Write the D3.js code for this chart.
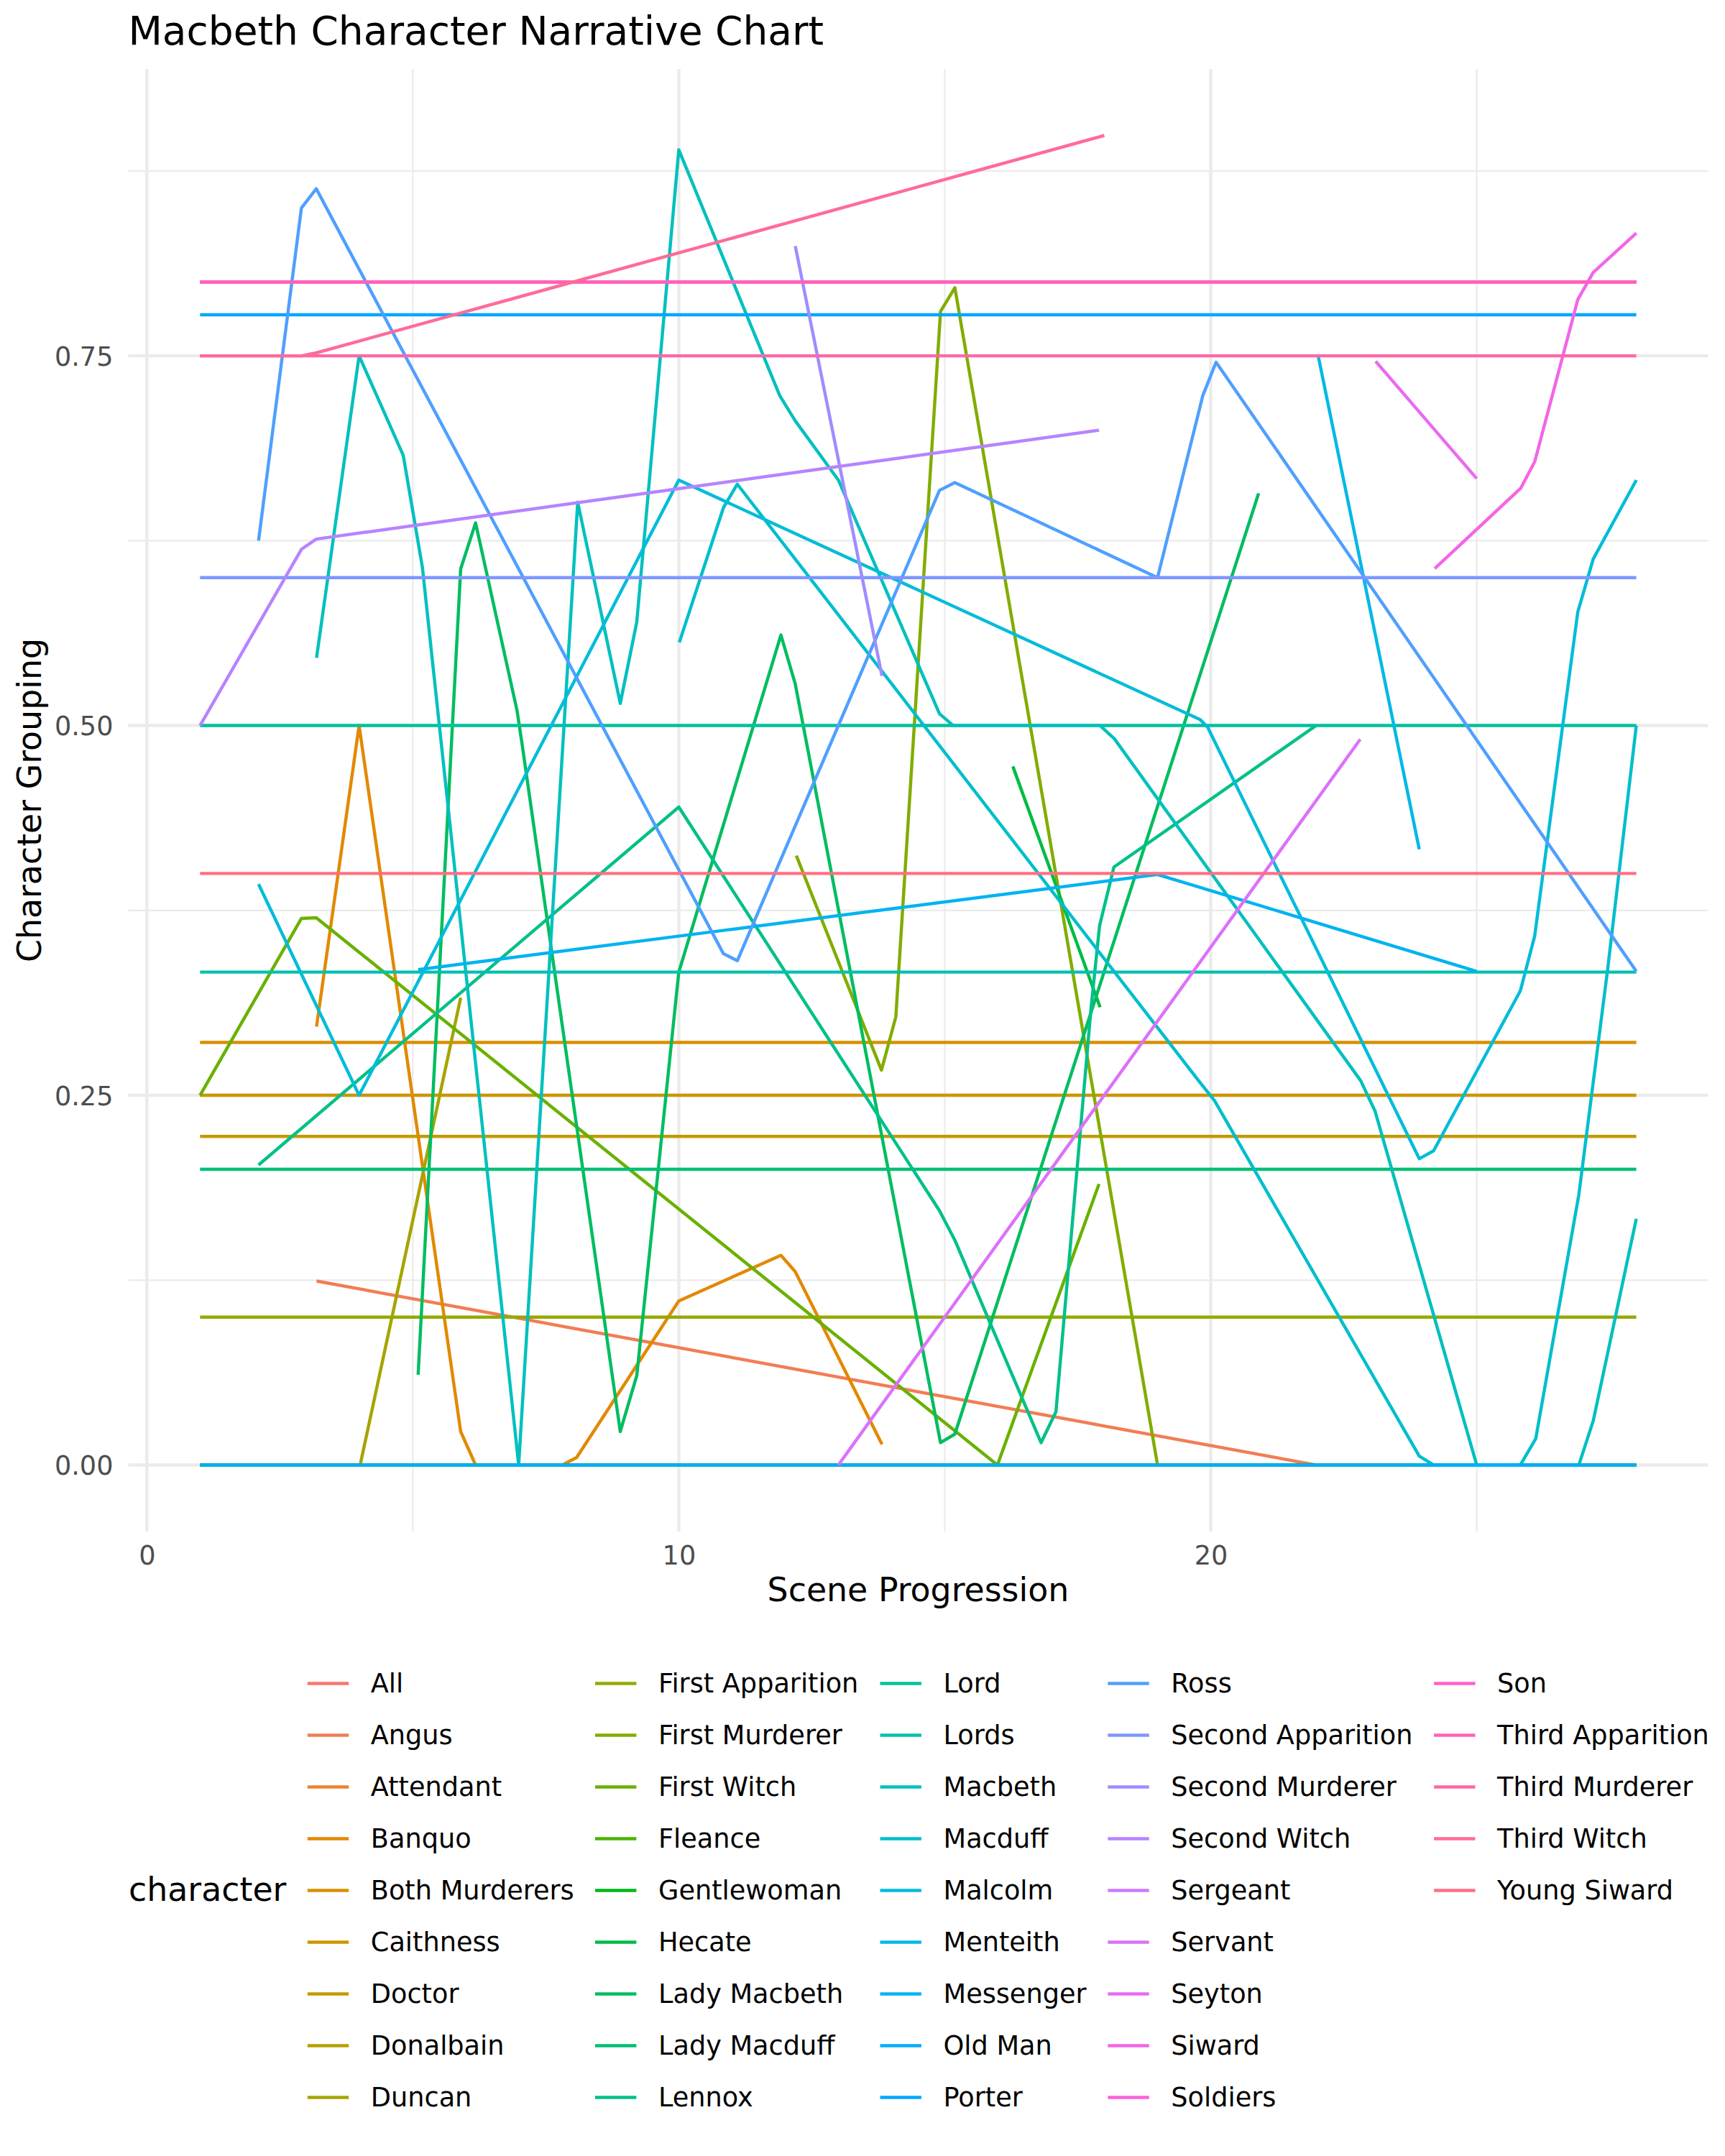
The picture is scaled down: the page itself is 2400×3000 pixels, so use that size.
<!DOCTYPE html>
<html>
<head>
<meta charset="utf-8">
<script src="https://cdn.jsdelivr.net/npm/d3@7"></script>
<style>
  body { margin: 0; background: #ffffff; }
  svg { display: block; }
  text { font-family: "DejaVu Sans", sans-serif; }
</style>
</head>
<body>
<svg id="chart" width="2400" height="3000"></svg>
<script>
// ---------------- DATA ----------------
const characters = ["All","Angus","Attendant","Banquo","Both Murderers","Caithness","Doctor","Donalbain","Duncan",
  "First Apparition","First Murderer","First Witch","Fleance","Gentlewoman","Hecate","Lady Macbeth","Lady Macduff",
  "Lennox","Lord","Lords","Macbeth","Macduff","Malcolm","Menteith","Messenger","Old Man","Porter","Ross",
  "Second Apparition","Second Murderer","Second Witch","Sergeant","Servant","Seyton","Siward","Soldiers","Son",
  "Third Apparition","Third Murderer","Third Witch","Young Siward"];

// [scene, grouping] points per character (alphabetical order)
const sAll = [[1,0],[28,0]];
const sAngus = [[3.19,0.1244],[21.98,0.0]];
const sAttendant = [[1,0],[28,0]];
const sBanquo = [[3.19,0.2964],[3.99,0.5],[5.9,0.0226],[6.18,0],[7.81,0],[8.08,0.0051],[10,0.1109],[11.92,0.1418],[12.19,0.1307],[13.82,0.014]];
const sBothMurderers = [[1,0.2857],[28,0.2857]];
const sCaithness = [[1,0.25],[28,0.25]];
const sDoctor = [[1,0.2222],[28,0.2222]];
const sDonalbain = [[1,0],[28,0]];
const sDuncan = [[1,0],[4.01,0],[5.9,0.316]];
const sFirstApparition = [[1,0.1],[28,0.1]];
const sFirstMurderer = [[12.21,0.412],[13.81,0.267],[14.08,0.303],[14.92,0.780],[15.19,0.796],[19,0]];
const sFirstWitch = [[1,0.25],[2.906,0.3696],[3.185,0.37],[15.99,0],[17.9,0.19]];
const sFleance = [[1,0],[28,0]];
const sGentlewoman = [[1,0],[28,0]];
const sHecate = [[16.28,0.4724],[17.92,0.3095]];
const sLadyMacbeth = [[5.1,0.061],[5.9,0.606],[6.18,0.637],[6.96,0.51],[7.06,0.486],[8.9,0.0226],[9.21,0.0604],[10,0.3333],[11.92,0.5612],[12.19,0.528],[14.92,0.0151],[15.19,0.0209],[20.9,0.657]];
const sLadyMacduff = [[1,0.2],[28,0.2]];
const sLennox = [[2.1,0.2029],[10,0.4449],[14.9,0.172],[15.19,0.152],[16.81,0.0151],[17.09,0.036],[17.75,0.309],[17.91,0.3646],[18.18,0.4043],[21.98,0.5]];
const sLord = [[1,0.5],[28,0.5]];
const sLords = [[1,0.3333],[28,0.3333]];
const sMacbeth = [[3.19,0.5458],[3.99,0.75],[4.82,0.6827],[5.18,0.607],[6.99,0],[8.1,0.651],[8.9,0.515],[9.21,0.570],[10,0.8893],[11.9,0.7229],[12.19,0.706],[13,0.666],[14.9,0.508],[15.16,0.5],[17.92,0.5],[18.19,0.491],[22.82,0.2598],[23.09,0.2392],[25,0],[26.92,0],[27.19,0.0298],[28,0.1665]];
const sMacduff = [[10.01,0.5562],[10.84,0.6474],[11.1,0.6632],[19.76,0.2604],[20.07,0.2464],[23.92,0.006],[24.19,0],[25.82,0],[26.11,0.0178],[26.92,0.1828],[27.46,0.3347],[28,0.5]];
const sMalcolm = [[2.1,0.3928],[3.99,0.25],[10,0.666],[19.8,0.504],[19.94,0.499],[23.92,0.2071],[24.19,0.2125],[25.82,0.3206],[26.09,0.3577],[26.9,0.5768],[27.19,0.6126],[28,0.666]];
const sMenteith = [[22.02,0.75],[23.92,0.4163]];
const sMessenger = [[5.1,0.3349],[19,0.3993],[25,0.3338]];
const sOldMan = [[1,0],[28,0]];
const sPorter = [[1,0.7778],[28,0.7778]];
const sRoss = [[2.1,0.625],[2.906,0.85],[3.185,0.863],[10.84,0.3457],[11.1,0.341],[14.9,0.659],[15.19,0.6643],[19,0.6],[19.85,0.723],[20.1,0.7457],[28,0.3338]];
const sSecondApparition = [[1,0.6],[28,0.6]];
const sSecondMurderer = [[12.19,0.8242],[13.82,0.5335]];
const sSecondWitch = [[1,0.5],[2.906,0.6192],[3.185,0.6261],[17.9,0.6997]];
const sSergeant = [[1,0.8],[28,0.8]];
const sServant = [[13,0],[22.81,0.4907]];
const sSeyton = [[23.1,0.7463],[25,0.667]];
const sSiward = [[24.21,0.6061],[25.83,0.6606],[26.09,0.6784],[26.9,0.788],[27.19,0.8064],[28,0.833]];
const sSoldiers = [[1,0.8],[28,0.8]];
const sSon = [[1,0.8],[28,0.8]];
const sThirdApparition = [[1,0.8],[28,0.8]];
const sThirdMurderer = [[1,0.75],[28,0.75]];
const sThirdWitch = [[1,0.75],[2.906,0.75],[3.185,0.752],[18,0.899]];
const sYoungSiward = [[1,0.4],[28,0.4]];

const seriesList = [sAll,sAngus,sAttendant,sBanquo,sBothMurderers,sCaithness,sDoctor,sDonalbain,sDuncan,
  sFirstApparition,sFirstMurderer,sFirstWitch,sFleance,sGentlewoman,sHecate,sLadyMacbeth,sLadyMacduff,
  sLennox,sLord,sLords,sMacbeth,sMacduff,sMalcolm,sMenteith,sMessenger,sOldMan,sPorter,sRoss,
  sSecondApparition,sSecondMurderer,sSecondWitch,sSergeant,sServant,sSeyton,sSiward,sSoldiers,sSon,
  sThirdApparition,sThirdMurderer,sThirdWitch,sYoungSiward];

const xTicks = [0, 10, 20];
const xTickLabels = ["0", "10", "20"];
const xMinorTicks = [5, 15, 25];
const yTicks = [0, 0.25, 0.5, 0.75];
const yTickLabels = ["0.00", "0.25", "0.50", "0.75"];
const yMinorTicks = [0.125, 0.375, 0.625, 0.875];

const titleText = "Macbeth Character Narrative Chart";
const xTitle = "Scene Progression";
const yTitle = "Character Grouping";
const legendTitle = "character";

// ---------------- COLOURS (ggplot hue palette, polar LUV) ----------------
function hcl2hex(h, c, l) {
  const WY = 100.0, Wu = 0.1978398, Wv = 0.4683363;
  const hr = h * Math.PI / 180;
  const L = l, U = c * Math.cos(hr), V = c * Math.sin(hr);
  const Y = WY * (L > 7.999592 ? Math.pow((L + 16) / 116, 3) : L / 903.3);
  const u = U / (13 * L) + Wu, v = V / (13 * L) + Wv;
  const X = 9.0 * Y * u / (4 * v);
  const Z = -X / 3 - 5 * Y + 3 * Y / v;
  const g = t => t > 0.00304 ? 1.055 * Math.pow(t, 1 / 2.4) - 0.055 : 12.92 * t;
  const cl = t => Math.max(0, Math.min(1, t));
  const R = cl(g((3.240479 * X - 1.537150 * Y - 0.498535 * Z) / WY));
  const G = cl(g((-0.969256 * X + 1.875992 * Y + 0.041556 * Z) / WY));
  const B = cl(g((0.055648 * X - 0.204043 * Y + 1.057311 * Z) / WY));
  const hx = t => Math.floor(255 * t + 0.5).toString(16).padStart(2, "0");
  return "#" + hx(R) + hx(G) + hx(B);
}
const nC = characters.length;
const palette = characters.map((d, i) => hcl2hex((15 + i * 360 / nC) % 360, 100, 65));
const color = d3.scaleOrdinal().domain(characters).range(palette);

// ---------------- LAYOUT ----------------
const panel = { left: 178.4, right: 2376.5, top: 96, bottom: 2131 };
const LW = 4.45;

const allPts = seriesList.flat();
const xExt = d3.extent(allPts, d => d[0]);
const yExt = d3.extent(allPts, d => d[1]);
const xPad = (xExt[1] - xExt[0]) * 0.05, yPad = (yExt[1] - yExt[0]) * 0.05;
const x = d3.scaleLinear().domain([xExt[0] - xPad, xExt[1] + xPad]).range([panel.left, panel.right]);
const y = d3.scaleLinear().domain([yExt[0] - yPad, yExt[1] + yPad]).range([panel.bottom, panel.top]);

const svg = d3.select("#chart");
svg.append("rect").attr("width", 2400).attr("height", 3000).attr("fill", "#ffffff");

// grid
const grid = svg.append("g");
grid.selectAll(".xm").data(xMinorTicks).enter().append("line")
  .attr("x1", d => x(d)).attr("x2", d => x(d)).attr("y1", panel.top).attr("y2", panel.bottom)
  .attr("stroke", "#EBEBEB").attr("stroke-width", 2.22);
grid.selectAll(".ym").data(yMinorTicks).enter().append("line")
  .attr("y1", d => y(d)).attr("y2", d => y(d)).attr("x1", panel.left).attr("x2", panel.right)
  .attr("stroke", "#EBEBEB").attr("stroke-width", 2.22);
grid.selectAll(".xM").data(xTicks).enter().append("line")
  .attr("x1", d => x(d)).attr("x2", d => x(d)).attr("y1", panel.top).attr("y2", panel.bottom)
  .attr("stroke", "#EBEBEB").attr("stroke-width", 4.45);
grid.selectAll(".yM").data(yTicks).enter().append("line")
  .attr("y1", d => y(d)).attr("y2", d => y(d)).attr("x1", panel.left).attr("x2", panel.right)
  .attr("stroke", "#EBEBEB").attr("stroke-width", 4.45);

// lines
const line = d3.line().x(d => x(d[0])).y(d => y(d[1]));
const linesG = svg.append("g");
seriesList.forEach((pts, i) => {
  const sorted = pts.slice().sort((a, b) => a[0] - b[0]);
  linesG.append("path").attr("d", line(sorted))
    .attr("fill", "none").attr("stroke", color(characters[i]))
    .attr("stroke-width", LW).attr("stroke-linejoin", "round").attr("stroke-linecap", "butt");
});

// axes
const xAxis = d3.axisBottom(x).tickValues(xTicks).tickFormat((d, i) => xTickLabels[i]).tickSize(0).tickPadding(20);
const gx = svg.append("g").attr("transform", `translate(0,${panel.bottom})`).call(xAxis);
gx.select(".domain").remove();
gx.selectAll("text").attr("font-size", 36.67).attr("fill", "#4D4D4D").attr("font-family", "DejaVu Sans");

const yAxis = d3.axisLeft(y).tickValues(yTicks).tickFormat((d, i) => yTickLabels[i]).tickSize(0).tickPadding(20.9);
const gy = svg.append("g").attr("transform", `translate(${panel.left},0)`).call(yAxis);
gy.select(".domain").remove();
gy.selectAll("text").attr("font-size", 36.67).attr("fill", "#4D4D4D").attr("dy", "0.365em").attr("font-family", "DejaVu Sans");

// titles
svg.append("text").attr("x", 178.4).attr("y", 62).attr("font-size", 55).attr("fill", "#000").text(titleText);
svg.append("text").attr("x", (panel.left + panel.right) / 2).attr("y", 2228).attr("text-anchor", "middle")
  .attr("font-size", 45.83).attr("fill", "#000").text(xTitle);
svg.append("text").attr("transform", `translate(56.7,${(panel.top + panel.bottom) / 2}) rotate(-90)`)
  .attr("text-anchor", "middle").attr("font-size", 45.83).attr("fill", "#000").text(yTitle);

// legend
const legendKeyX = [427.8, 828, 1224.5, 1541.3, 1995.1];
const legendRow0 = 2342.4, legendRowStep = 72.0, legendRows = 9;
const lg = svg.append("g");
lg.append("text").attr("x", 179).attr("y", 2645).attr("font-size", 45.83).attr("fill", "#000").text(legendTitle);
characters.forEach((name, i) => {
  const col = Math.floor(i / legendRows), row = i % legendRows;
  const cy = legendRow0 + row * legendRowStep;
  const kx = legendKeyX[col];
  lg.append("line").attr("x1", kx).attr("x2", kx + 57.4).attr("y1", cy).attr("y2", cy)
    .attr("stroke", color(name)).attr("stroke-width", LW);
  lg.append("text").attr("x", kx + 88).attr("y", cy + 12.8).attr("font-size", 36.67).attr("fill", "#000").text(name);
});
</script>
</body>
</html>
